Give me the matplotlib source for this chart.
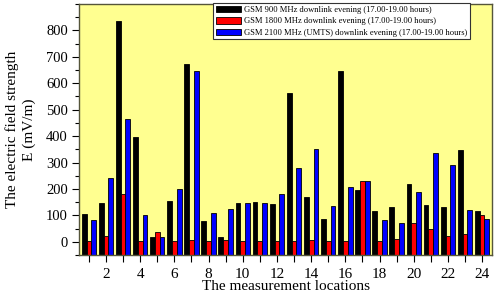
#!/usr/bin/env python3

# Electric field strength at the measurement locations, evening downlink

import numpy as np
from matplotlib import pyplot as plt
from matplotlib.ticker import MultipleLocator
import matplotlib

params = {
    'font.family': 'serif',
    'font.serif': ['Liberation Serif', 'DejaVu Serif'],
    'font.size': 10,
    'xtick.labelsize': 11,
    'ytick.labelsize': 10.5,
    'axes.labelsize': 11,
    'legend.fontsize': 6.1,
    'figure.dpi': 100,
}
matplotlib.rcParams.update(params)

locations = np.arange(1, 25)
gsm900 = [107, 148, 834, 395, 18, 156, 674, 78, 20, 147, 152, 144, 563, 170, 87,
          646, 195, 116, 132, 220, 139, 132, 348, 118]
gsm1800 = [2, 21, 180, 2, 37, 2, 5, 2, 8, 2, 2, 2, 2, 5, 2,
           2, 230, 2, 9, 72, 49, 21, 30, 103]
umts2100 = [82, 242, 463, 103, 18, 201, 647, 109, 124, 147, 147, 179, 281, 352, 135,
            208, 230, 84, 72, 187, 337, 290, 122, 86]

labels = ["GSM 900 MHz downlink evening (17.00-19.00 hours)",
          "GSM 1800 MHz downlink evening (17.00-19.00 hours)",
          "GSM 2100 MHz (UMTS) downlink evening (17.00-19.00 hours)"]
colors = ["#000000", "#ff0000", "#0000ff"]

ymin, ymax = -50, 900
w = 0.28

fig = plt.figure(figsize=(4.99, 2.94))
ax = fig.add_axes([79 / 499, 1 - 255 / 294, (492 - 79) / 499, (255 - 4) / 294])
ax.set_facecolor("#ffff90")

for i, (vals, c, lab) in enumerate(zip([gsm900, gsm1800, umts2100], colors, labels)):
    vals = np.array(vals, dtype=float)
    ax.bar(locations + (i - 1) * w, vals - ymin, bottom=ymin, width=w,
           color=c, edgecolor="k", linewidth=0.6, label=lab)

ax.set_xlim(0.42, 24.58)
ax.set_ylim(ymin, ymax)

ax.xaxis.set_minor_locator(MultipleLocator(1))
ax.yaxis.set_minor_locator(MultipleLocator(50))
ax.set_xticks(np.arange(2, 25, 2))
ax.set_yticks(np.arange(0, 801, 100))

ax.tick_params(which="both", direction="out", top=False, right=False)
ax.tick_params(which="major", length=5, width=0.8)
ax.tick_params(which="minor", length=3, width=0.8)
ax.tick_params(axis="x", which="both", length=5, pad=4)
ax.tick_params(axis="y", pad=3)

for s in ax.spines.values():
    s.set_color("#55553a")
    s.set_linewidth(1.0)

ax.set_xlabel("The measurement locations", labelpad=-0.5)
ax.set_ylabel("The electric field strength\nE (mV/m)", labelpad=7, linespacing=1.35)

leg = ax.legend(loc="upper left", bbox_to_anchor=(213 / 499, 1 - 3 / 294),
                bbox_transform=fig.transFigure, frameon=True, fancybox=False,
                framealpha=1, edgecolor="#333333", handlelength=3.0,
                handleheight=0.8, handletextpad=0.4, borderpad=0.3,
                labelspacing=0.4, borderaxespad=0)
leg.get_frame().set_linewidth(0.8)

plt.savefig("out.png", dpi=100)
